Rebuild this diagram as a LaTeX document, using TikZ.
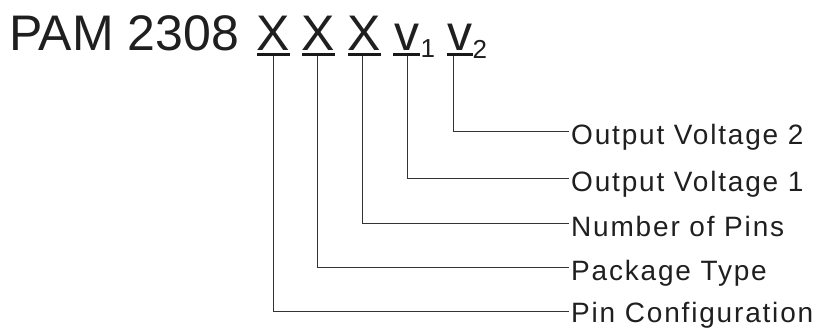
\documentclass[tikz,border=0pt]{standalone}
\usepackage{fontspec}
\setmainfont{Liberation Sans}
\newfontfamily\labfont[LetterSpace=6.5]{Liberation Sans}
\begin{document}
\begin{tikzpicture}[x=1pt,y=-1pt,
  big/.style={inner sep=0pt, font=\fontsize{50}{50}\selectfont, text=black!88},
  sub/.style={inner sep=0pt, anchor=base west, font=\fontsize{26}{26}\selectfont, text=black!88},
  lab/.style={inner sep=0pt, anchor=base west, font=\labfont\fontsize{28}{28}\selectfont, text=black!88},
  uline/.style={line width=3pt, black!90},
  lead/.style={line width=0.9pt, black!80}]
\useasboundingbox (0,0) rectangle (817,328);
% title
\node[big, anchor=base west] (pam) at (9,50.5) {PAM 2308};
\node[big, anchor=base] (x1) at (273.5,50.5) {X};
\node[big, anchor=base] (x2) at (318.5,50.5) {X};
\node[big, anchor=base] (x3) at (364.5,50.5) {X};
\node[big, anchor=base] (v1) at (406.5,50.5) {v};
\node[big, anchor=base] (v2) at (460,50.5) {v};
\node[sub] (s1) at (420.5,57.5) {1};
\node[sub] (s2) at (472.5,59) {2};
% underlines
\draw[uline] (257,55) -- (290,55);
\draw[uline] (302,55) -- (335,55);
\draw[uline] (348,55) -- (381,55);
\draw[uline] (393,55) -- (420,55);
\draw[uline] (447,55) -- (473,55);
% tops of leaders
\coordinate (t1) at (273,56.5);
\coordinate (t2) at (317,56.5);
\coordinate (t3) at (362,56.5);
\coordinate (t4) at (407,56.5);
\coordinate (t5) at (453,56.5);
% ends of leaders
\coordinate (e5) at (569,131.5);
\coordinate (e4) at (569,178.5);
\coordinate (e3) at (569,223.5);
\coordinate (e2) at (569,267.5);
\coordinate (e1) at (569,311);
% labels
\node[lab] (l5) at ([shift={(2,13.2)}]e5) {Output Voltage 2};
\node[lab] (l4) at ([shift={(2,13.2)}]e4) {Output Voltage 1};
\node[lab] (l3) at ([shift={(2,13.2)}]e3) {Number of Pins};
\node[lab] (l2) at ([shift={(2,13.2)}]e2) {Package Type};
\node[lab] (l1) at ([shift={(2,11.5)}]e1) {Pin Configuration};
% leaders
\draw[lead] (t1) |- (e1);
\draw[lead] (t2) |- (e2);
\draw[lead] (t3) |- (e3);
\draw[lead] (t4) |- (e4);
\draw[lead] (t5) |- (e5);
\end{tikzpicture}
\end{document}
